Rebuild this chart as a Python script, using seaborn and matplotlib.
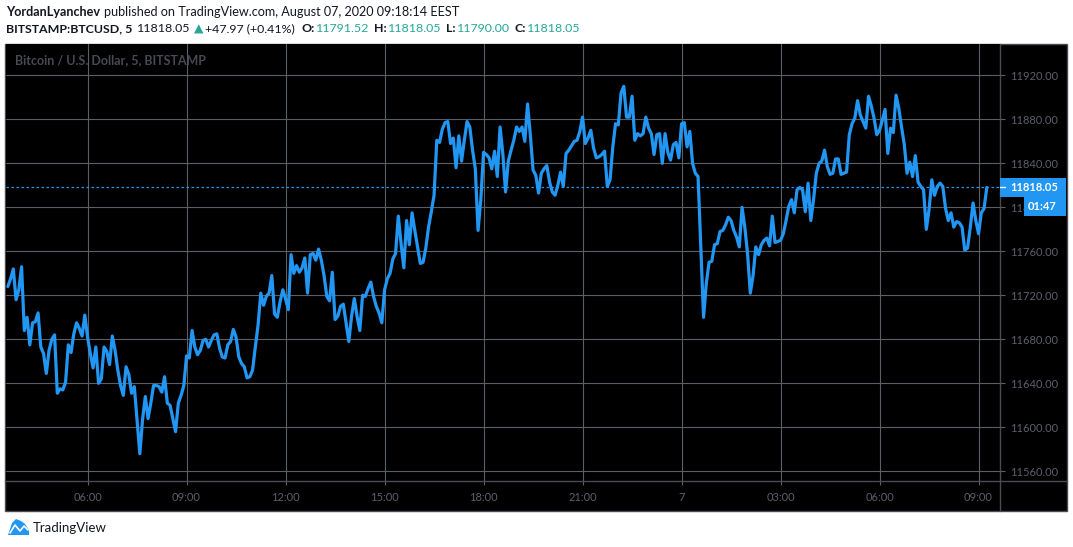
import numpy as np
import pandas as pd
import matplotlib
matplotlib.use('Agg')
import matplotlib.pyplot as plt
import matplotlib.transforms as mtransforms
from matplotlib.patches import Rectangle, Polygon
from matplotlib.lines import Line2D
import seaborn as sns

# ======================================
# Data: BTCUSD 5-minute closes, one list per 3h block
# ======================================

start = '2020-08-06 03:35'

aug6_0335 = [11728, 11735, 11744, 11716, 11725, 11746, 11688, 11700, 11675, 11695,
             11696, 11704, 11673, 11667, 11649, 11670, 11680, 11684, 11631, 11635,
             11634, 11641, 11675, 11668, 11685, 11695, 11690, 11683, 11702]
aug6_0600 = [11682, 11667, 11654, 11673, 11640, 11644, 11673, 11669, 11657, 11683,
             11670, 11652, 11638, 11629, 11655, 11648, 11631, 11637, 11607, 11576,
             11607, 11628, 11608, 11622, 11638, 11638, 11637, 11632, 11646, 11622,
             11620, 11608, 11596, 11622, 11629, 11638]
aug6_0900 = [11665, 11663, 11688, 11673, 11666, 11670, 11679, 11680, 11673, 11679,
             11684, 11685, 11672, 11664, 11663, 11675, 11678, 11689, 11682, 11664,
             11658, 11655, 11645, 11646, 11652, 11673, 11693, 11722, 11711, 11719,
             11722, 11738, 11703, 11700, 11714, 11725]
aug6_1200 = [11717, 11707, 11757, 11740, 11747, 11741, 11745, 11754, 11722, 11757,
             11758, 11752, 11762, 11752, 11738, 11719, 11715, 11741, 11698, 11701,
             11710, 11712, 11695, 11678, 11701, 11717, 11701, 11688, 11720, 11719,
             11726, 11732, 11719, 11710, 11704, 11695]
aug6_1500 = [11725, 11735, 11740, 11753, 11758, 11792, 11767, 11745, 11788, 11766,
             11795, 11779, 11764, 11749, 11750, 11763, 11782, 11796, 11811, 11861,
             11859, 11871, 11877, 11878, 11858, 11863, 11836, 11865, 11842, 11861,
             11878, 11873, 11852, 11835, 11779, 11807]
aug6_1800 = [11850, 11848, 11845, 11835, 11851, 11828, 11873, 11849, 11814, 11842,
             11852, 11861, 11873, 11869, 11873, 11860, 11894, 11866, 11834, 11829,
             11813, 11831, 11835, 11838, 11823, 11814, 11811, 11820, 11832, 11819,
             11849, 11852, 11856, 11860, 11861, 11869]
aug6_2100 = [11882, 11858, 11863, 11870, 11854, 11845, 11846, 11848, 11851, 11819,
             11825, 11855, 11876, 11875, 11904, 11910, 11882, 11882, 11901, 11861,
             11867, 11865, 11867, 11882, 11872, 11867, 11848, 11866, 11867, 11840,
             11867, 11850, 11843, 11857, 11859, 11845]
aug7_0000 = [11876, 11877, 11855, 11869, 11840, 11831, 11828, 11764, 11700, 11731,
             11750, 11751, 11766, 11767, 11778, 11779, 11784, 11791, 11788, 11779,
             11773, 11764, 11800, 11782, 11758, 11722, 11738, 11764, 11757, 11766,
             11770, 11772, 11765, 11792, 11768, 11769]
aug7_0300 = [11770, 11776, 11788, 11801, 11807, 11795, 11816, 11818, 11816, 11796,
             11822, 11788, 11807, 11831, 11840, 11842, 11852, 11837, 11830, 11831,
             11844, 11844, 11830, 11831, 11832, 11866, 11876, 11881, 11897, 11884,
             11878, 11872, 11901, 11892, 11881, 11866]
aug7_0600 = [11870, 11879, 11889, 11849, 11872, 11868, 11902, 11890, 11873, 11857,
             11831, 11841, 11828, 11847, 11823, 11819, 11816, 11780, 11798, 11825,
             11811, 11819, 11822, 11819, 11799, 11788, 11795, 11782, 11787, 11786,
             11782, 11761, 11763, 11782, 11804, 11788, 11776, 11795, 11799, 11818.05]

tick_times = ['2020-08-06 06:00', '2020-08-06 09:00', '2020-08-06 12:00',
              '2020-08-06 15:00', '2020-08-06 18:00', '2020-08-06 21:00',
              '2020-08-07 00:00', '2020-08-07 03:00', '2020-08-07 06:00',
              '2020-08-07 09:00']
tick_labels = ['06:00', '09:00', '12:00', '15:00', '18:00', '21:00', '7',
               '03:00', '06:00', '09:00']
price_ticks = [11560, 11600, 11640, 11680, 11720, 11760, 11800, 11840, 11880, 11920]

last_price = 11818.05
countdown = '01:47'
ohlc = {'O': '11791.52', 'H': '11818.05', 'L': '11790.00', 'C': '11818.05'}
change = '+47.97 (+0.41%)'

closes = (aug6_0335 + aug6_0600 + aug6_0900 + aug6_1200 + aug6_1500 +
          aug6_1800 + aug6_2100 + aug7_0000 + aug7_0300 + aug7_0600)
df = pd.DataFrame({
    'time': pd.date_range(start, periods=len(closes), freq='5min'),
    'close': closes,
})

# ======================================
# Style
# ======================================

BLUE = '#2196f3'
TEAL = '#26a69a'
DARK = '#131722'
GRID = '#5b5d67'
LABEL = '#5d606b'
BORDER = '#4a4c55'

sns.set_theme(style='dark', rc={'axes.facecolor': 'black'})
plt.rcParams['font.family'] = ['Lato', 'DejaVu Sans']

W, H = 1073, 547
fig = plt.figure(figsize=(W / 100, H / 100), dpi=100, facecolor='white')


def fx(px):
    return px / W


def fy(py):
    return 1 - py / H


# black chart panel behind the axes
fig.add_artist(Rectangle((fx(5), fy(511)), fx(1062), 467 / H,
                         transform=fig.transFigure, facecolor='black',
                         edgecolor=BORDER, lw=1, zorder=-1))

ax = fig.add_axes([fx(6), fy(481), fx(994), 437 / H])
ax.set_facecolor('black')

sns.lineplot(data=df, x='time', y='close', ax=ax, color=BLUE, linewidth=2.3)

t0 = pd.Timestamp(start)
ax.set_xlim(t0 - pd.Timedelta(minutes=3.3), t0 + pd.Timedelta(minutes=1804))
ax.set_ylim(11551.2, 11948.5)

ax.set_xticks(pd.to_datetime(tick_times))
ax.set_xticklabels(tick_labels)
ax.set_yticks(price_ticks)
ax.set_yticklabels([f'{p:.2f}' for p in price_ticks])
ax.yaxis.tick_right()

ax.grid(True, color=GRID, linewidth=0.8)
ax.set_axisbelow(True)
for s in ax.spines.values():
    s.set_visible(False)

ax.tick_params(axis='y', colors=LABEL, labelsize=8, length=3.6, width=0.8,
               pad=3.6, direction='out', right=True, left=False)
ax.tick_params(axis='x', colors=LABEL, labelsize=8, length=3, width=0.8,
               pad=5, direction='out', bottom=True)
for t in ax.get_xticklabels() + ax.get_yticklabels():
    t.set_color(LABEL)
ax.set_xlabel('')
ax.set_ylabel('')

# last price dotted line
ax.axhline(last_price, color=BLUE, lw=0.9, ls=(0, (2, 2)))

ax.text(fx(9) / fx(994), 1 - 16 / 437, 'Bitcoin / U.S. Dollar, 5, BITSTAMP',
        transform=ax.transAxes, color='#474a54', fontsize=9, fontweight='bold',
        va='center', ha='left')

# separators of price scale / time scale
fig.add_artist(Line2D([fx(1000), fx(1000)], [fy(44), fy(511)],
                      transform=fig.transFigure, color=BORDER, lw=1))
fig.add_artist(Line2D([fx(5), fx(1067)], [fy(481), fy(481)],
                      transform=fig.transFigure, color=BORDER, lw=1))

# price label boxes on the scale (the countdown box covers part of 11800.00)
bt = mtransforms.blended_transform_factory(fig.transFigure, ax.transData)
half = 8.6
fig.add_artist(Rectangle((fx(1000), last_price - half), fx(66), 2 * half,
                         transform=bt, facecolor=BLUE, edgecolor='none', zorder=5))
fig.add_artist(Rectangle((fx(1024), last_price - 3 * half), fx(42), 2 * half,
                         transform=bt, facecolor=BLUE, edgecolor='none', zorder=5))
fig.add_artist(Line2D([fx(1000), fx(1005)], [last_price, last_price],
                      transform=bt, color='white', lw=1, zorder=6))
fig.text(fx(1010), last_price, f'{last_price:.2f}', transform=bt, color='white',
         fontsize=8, fontweight='bold', va='center', ha='left', zorder=7)
fig.text(fx(1028), last_price - 2 * half, countdown, transform=bt, color='white',
         fontsize=8, fontweight='bold', va='center', ha='left', zorder=7)

# ======================================
# Header
# ======================================

renderer = fig.canvas.get_renderer()


def chain(pieces, x_px, y_px, size):
    x = x_px
    for s, color, weight, gap in pieces:
        t = fig.text(fx(x), fy(y_px), s, color=color, fontsize=size,
                     fontweight=weight, va='center', ha='left')
        bb = t.get_window_extent(renderer)
        x = bb.x1 + gap


chain([('YordanLyanchev', DARK, 'bold', 4),
       ('published on TradingView.com, August 07, 2020 09:18:14 EEST', DARK, 'normal', 0)],
      6, 12, 9.1)

line2 = [('BITSTAMP:BTCUSD, 5', DARK, 'bold', 5),
         (f'{last_price:.2f}', DARK, 'normal', 3),
         ('▲', TEAL, 'normal', 2),
         (change, DARK, 'normal', 6)]
for k, v in ohlc.items():
    line2.append((k + ':', DARK, 'bold', 1))
    line2.append((v, TEAL, 'normal', 5))
chain(line2, 6, 29, 8.9)

# TradingView footer
fig.add_artist(Polygon([(fx(8), fy(535)), (fx(12), fy(523)), (fx(16), fy(519)),
                        (fx(21), fy(521)), (fx(25), fy(524)), (fx(29), fy(530)),
                        (fx(29), fy(535))],
                       closed=True, transform=fig.transFigure, facecolor=BLUE,
                       edgecolor='none'))
fig.add_artist(Line2D([fx(10), fx(15), fx(20), fx(24), fx(28)],
                      [fy(533), fy(525), fy(531), fy(526), fy(530)],
                      transform=fig.transFigure, color='white', lw=1.2))
fig.text(fx(33), fy(528), 'TradingView', color=DARK, fontsize=9.5,
         va='center', ha='left')

fig.savefig('out.png', dpi=100, facecolor='white')
